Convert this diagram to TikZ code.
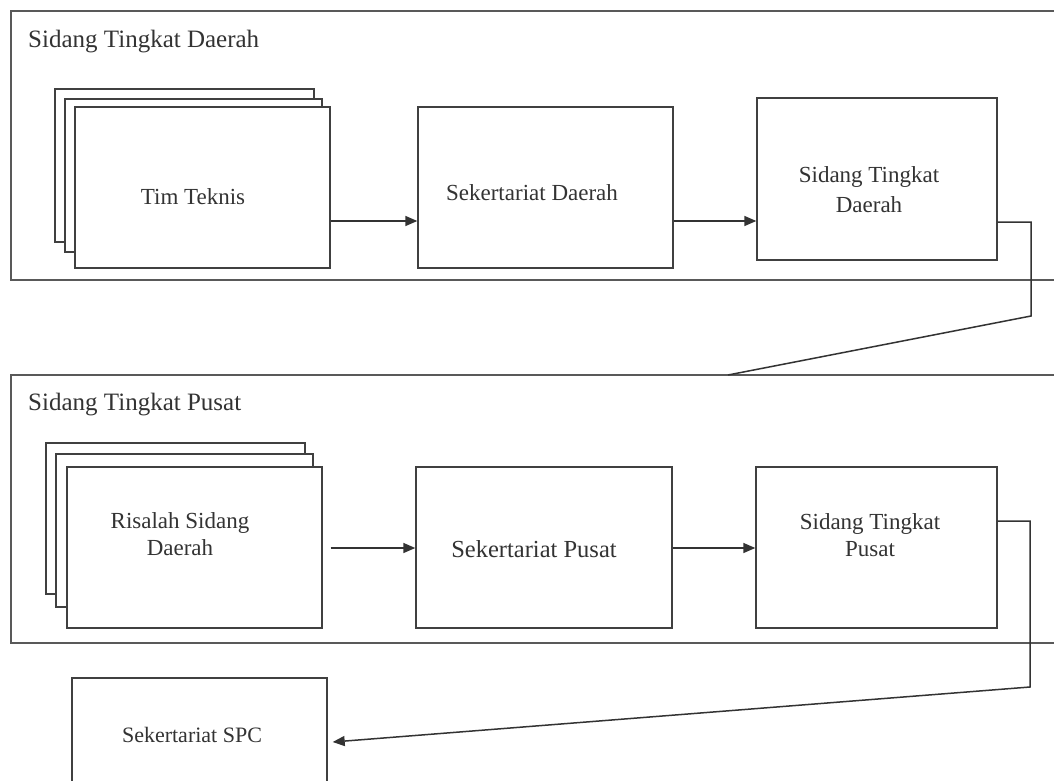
\documentclass[tikz,border=0pt]{standalone}
\usepackage{fontspec}
\setmainfont{Liberation Serif}
\usetikzlibrary{arrows.meta}
\begin{document}
\begin{tikzpicture}[x=1pt,y=-1pt,
  box/.style={draw=black!75, line width=1.4pt, fill=white, inner sep=0pt, rectangle},
  frame/.style={draw=black!65, line width=1.6pt},
  lbl/.style={font=\fontsize{23}{28}\selectfont, text=black!80, align=center, inner sep=0pt},
  conn/.style={draw=black!80, line width=1.5pt},
  arr/.style={conn, -{Triangle[length=12pt,width=10pt]}}]
\clip (0,0) rectangle (1054,781);
\fill[white] (0,0) rectangle (1054,781);
% frames
\draw[frame] (11,11) rectangle (1054.6,280);
\draw[frame] (11,375) rectangle (1054.6,643);
\node[lbl, anchor=west, font=\fontsize{25}{30}\selectfont] (t1) at (28,42) {Sidang Tingkat Daerah};
\node[lbl, anchor=west, font=\fontsize{25}{30}\selectfont] (t2) at (28,405) {Sidang Tingkat Pusat};
% top row
\node[box, minimum width=259pt, minimum height=153pt] (tim3) at (184.5,165.5) {};
\node[box, minimum width=257pt, minimum height=153pt] (tim2) at (193.5,175.5) {};
\node[box, minimum width=255pt, minimum height=161pt] (tim) at (202.5,187.5) {};
\node[lbl] (timt) at (193,197) {Tim Teknis};
\node[box, minimum width=255pt, minimum height=161pt] (sekd) at (545.5,187.5) {};
\node[lbl] (sekdt) at (532,193) {Sekertariat Daerah};
\node[box, minimum width=240pt, minimum height=162pt] (sidd) at (877,179) {};
\node[lbl, font=\fontsize{23}{30}\selectfont] (siddt) at (869,190) {Sidang Tingkat\\Daerah};
% bottom row
\node[box, minimum width=259pt, minimum height=151pt] (ris3) at (175.5,518.5) {};
\node[box, minimum width=257pt, minimum height=153pt] (ris2) at (184.5,530.5) {};
\node[box, minimum width=255pt, minimum height=161pt] (ris) at (194.5,547.5) {};
\node[lbl, font=\fontsize{23}{27}\selectfont] (rist) at (180,534) {Risalah Sidang\\Daerah};
\node[box, minimum width=256pt, minimum height=161pt] (sekp) at (544,547.5) {};
\node[lbl, font=\fontsize{24.5}{29}\selectfont] (sekpt) at (534,549) {Sekertariat Pusat};
\node[box, minimum width=241pt, minimum height=161pt] (sidp) at (876.5,547.5) {};
\node[lbl, font=\fontsize{23}{27}\selectfont] (sidpt) at (870,535) {Sidang Tingkat\\Pusat};
% SPC
\node[box, minimum width=255pt, minimum height=122pt] (spc) at (199.5,739) {};
\node[lbl, font=\fontsize{22}{26}\selectfont] (spct) at (192,735) {Sekertariat SPC};
% connectors
\coordinate (ya) at (0,221);
\coordinate (yb) at (0,548);
\draw[arr] (tim.east |- ya) -- (sekd.west |- ya);
\draw[arr] (sekd.east |- ya) -- (sidd.west |- ya);
\draw[arr] ([xshift=8pt]ris.east |- yb) -- (sekp.west |- yb);
\draw[arr] (sekp.east |- yb) -- (sidp.west |- yb);
\coordinate (yc) at (0,222);
\coordinate (c1) at (1031,222);
\coordinate (c2) at (1031,316);
\coordinate (c3) at (728,375);
\draw[conn] (sidd.east |- yc) -- (c1) -- (c2) -- (c3);
\coordinate (yd) at (0,521);
\coordinate (d1) at (1030,521);
\coordinate (d2) at (1030,687);
\coordinate (ye) at (0,742);
\draw[arr] (sidp.east |- yd) -- (d1) -- (d2) -- ([xshift=5pt]spc.east |- ye);
\end{tikzpicture}
\end{document}
